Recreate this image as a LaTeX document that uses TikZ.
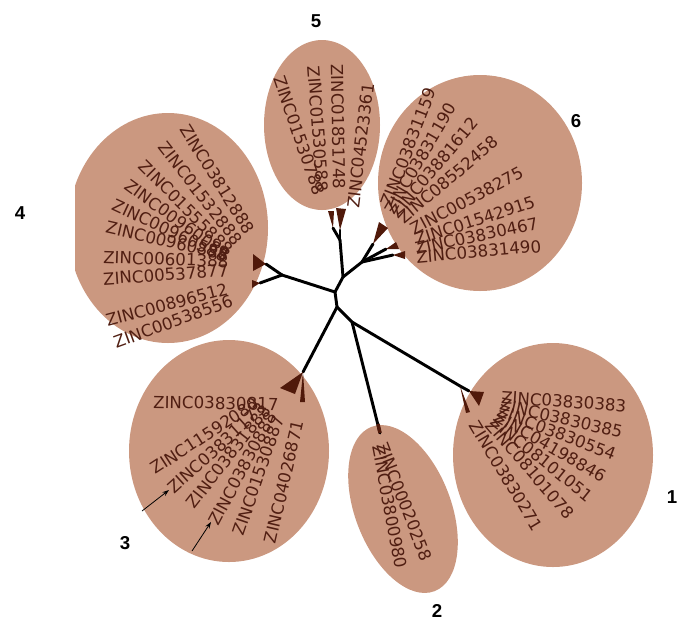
\documentclass[tikz,border=0pt]{standalone}
\usepackage{fontspec}
\usetikzlibrary{arrows.meta}
\newfontfamily\dvs{DejaVu Sans}
\newfontfamily\lsb{Liberation Sans}
\definecolor{blobcol}{RGB}{203,152,128}
\definecolor{inkcol}{RGB}{80,30,18}
\definecolor{tipcol}{RGB}{80,25,10}
\begin{document}
\begin{tikzpicture}[x=0.75pt,y=-0.75pt,
  blobfill/.style={fill=blobcol},
  br/.style={line width=2.2pt,line cap=round,line join=round},
  tipfill/.style={fill=tipcol},
  lab/.style={font=\dvs\fontsize{12.5}{14}\selectfont, text=inkcol, inner sep=0pt, anchor=west},
  num/.style={font=\lsb\bfseries\fontsize{14}{16}\selectfont, inner sep=0pt},
  pointer/.style={line width=0.6pt,-{Stealth[length=5pt,width=3.5pt]}}]
\useasboundingbox (0,0) rectangle (680,619);

% ---- cluster blobs
\fill[blobfill] (553,455) ellipse [x radius=100, y radius=112];
\fill[blobfill, rotate around={21:(403,509)}] (403,509) ellipse [x radius=48, y radius=88];
\fill[blobfill] (229,451) ellipse [x radius=100, y radius=111];
\begin{scope}
  \clip (75,0) rectangle (680,619);
  \fill[blobfill] (168,228) ellipse [x radius=100, y radius=115];
\end{scope}
\fill[blobfill] (322,125) ellipse [x radius=58, y radius=85];
\fill[blobfill] (480,183) ellipse [x radius=102, y radius=108];

% ---- tree skeleton
\coordinate (A) at (335,292);
\coordinate (B) at (343,277);
\coordinate (C) at (337,307);
\coordinate (D) at (352,322);
\coordinate (E4) at (282,275);
\coordinate (F5) at (340,240);
\coordinate (G6) at (362,262);
\coordinate (J3) at (303,372);
\coordinate (K1) at (460,386);
\coordinate (T2) at (380,433);
\coordinate (T2a) at (378,424);
\coordinate (T4a) at (266,264);
\coordinate (T4b) at (260,283);
\coordinate (T5a) at (333,228);
\coordinate (T5b) at (340,230);
\coordinate (T6a) at (373,244);
\coordinate (T6b) at (386,249);
\coordinate (T6c) at (393,255);
\coordinate (T1a) at (469,391);

\draw[br] (E4) -- (A) -- (B) -- (F5);
\draw[br] (B) -- (G6);
\draw[br] (A) -- (C) -- (J3);
\draw[br] (C) -- (D) -- (T2);
\draw[br] (D) -- (K1) -- (T1a);
\draw[br] (E4) -- (T4a);
\draw[br] (E4) -- (T4b);
\draw[br] (F5) -- (T5a);
\draw[br] (F5) -- (T5b);
\draw[br] (G6) -- (T6a);
\draw[br] (G6) -- (T6b);
\draw[br] (G6) -- (T6c);
\draw[line width=2.6pt, tipcol] (T2a) -- (T2);

% ---- collapsed-subtree triangles
\fill[tipfill] (T4a) -- (253,254) -- (253,271) -- cycle;
\fill[tipfill] (T4b) -- (252,280) -- (252,288) -- cycle;
\fill[tipfill] (T5a) -- (328,211) -- (334,211) -- cycle;
\fill[tipfill] (T5b) -- (336,208) -- (346,209) -- cycle;
\fill[tipfill] (T6a) -- (379,222) -- (388,228) -- cycle;
\fill[tipfill] (T6b) -- (396,242) -- (399,249) -- cycle;
\fill[tipfill] (T6c) -- (405,251) -- (405,259) -- cycle;
\fill[tipfill] (J3) -- (280,388) -- (295,394) -- cycle;
\fill[tipfill] (J3) -- (300,402) -- (305,402) -- cycle;
\fill[tipfill] (T1a) -- (484,392) -- (479,406) -- cycle;
\fill[tipfill] (K1) -- (466,413) -- (470,412) -- cycle;

% ---- cluster 1 labels
\node[lab, rotate=-4]  (c1a) at (501,397) {ZINC03830383};
\node[lab, rotate=-13] (c1b) at (500,404) {ZINC03830385};
\node[lab, rotate=-21] (c1c) at (498,410) {ZINC03830554};
\node[lab, rotate=-30] (c1d) at (496,415) {ZINC04198846};
\node[lab, rotate=-39] (c1e) at (493,419) {ZINC08101051};
\node[lab, rotate=-49] (c1f) at (489,422) {ZINC08101078};
\node[lab, rotate=-59] (c1g) at (474,422) {ZINC03830271};

% ---- cluster 2 labels
\node[lab, rotate=-69] (c2a) at (382,443) {ZINC00020258};
\node[lab, rotate=-79] (c2b) at (378,445) {ZINC03800980};

% ---- cluster 3 labels
\node[lab, rotate=-1] (c3a) at (153,402) {ZINC03830817};
\node[lab, rotate=33]  (c3b) at (152,470) {ZINC11592080};
\node[lab, rotate=42]  (c3c) at (170,490) {ZINC03831173};
\node[lab, rotate=52]  (c3d) at (190,506) {ZINC03831888};
\node[lab, rotate=62]  (c3e) at (213,524) {ZINC03830888};
\node[lab, rotate=71]  (c3f) at (238,535) {ZINC01530887};
\node[lab, rotate=77]  (c3g) at (270,543) {ZINC04026871};

% ---- cluster 4 labels
\node[lab, rotate=-58] (c4a) at (184,126) {ZINC03812888};
\node[lab, rotate=-52] (c4b) at (162,144) {ZINC01532888};
\node[lab, rotate=-45] (c4c) at (142,163) {ZINC01555888};
\node[lab, rotate=-36] (c4d) at (127,183) {ZINC00960088};
\node[lab, rotate=-25] (c4e) at (113,204) {ZINC00960588};
\node[lab, rotate=-13] (c4f) at (106,227) {ZINC00960888};
\node[lab, rotate=-2]  (c4g) at (103,257) {ZINC00601388};
\node[lab, rotate=4]   (c4h) at (103,279) {ZINC00537877};
\node[lab, rotate=15]  (c4i) at (106,321) {ZINC00896512};
\node[lab, rotate=20]  (c4j) at (114,343) {ZINC00538556};

% ---- cluster 5 labels
\node[lab, rotate=-71] (c5a) at (279,76) {ZINC01530788};
\node[lab, rotate=-86] (c5b) at (314,66) {ZINC01530588};
\node[lab, rotate=-89] (c5c) at (337,64) {ZINC01851748};
\node[lab, rotate=83]  (c5d) at (353,208) {ZINC04523361};

% ---- cluster 6 labels
\node[lab, rotate=69] (c6a) at (386,206) {ZINC03831159};
\node[lab, rotate=60] (c6b) at (389,213) {ZINC03831190};
\node[lab, rotate=50] (c6c) at (394,216) {ZINC03881612};
\node[lab, rotate=40] (c6d) at (400,220) {ZINC08552458};
\node[lab, rotate=28] (c6e) at (411,230) {ZINC00538275};
\node[lab, rotate=18] (c6f) at (415,240) {ZINC01542915};
\node[lab, rotate=12] (c6g) at (415,249) {ZINC03830467};
\node[lab, rotate=5]  (c6h) at (416,257) {ZINC03831490};

% ---- pointer arrows
\coordinate (p1s) at (142,511);
\coordinate (p1e) at (169,490);
\coordinate (p2s) at (192,551);
\coordinate (p2e) at (211,522);
\draw[pointer] (p1s) -- (p1e);
\draw[pointer] (p2s) -- (p2e);

% ---- cluster numbers
\node[num] (n1) at (672,497) {1};
\node[num] (n2) at (437,611) {2};
\node[num] (n3) at (125,543) {3};
\node[num] (n4) at (20,213) {4};
\node[num] (n5) at (316,21) {5};
\node[num] (n6) at (576,121) {6};
\end{tikzpicture}
\end{document}
